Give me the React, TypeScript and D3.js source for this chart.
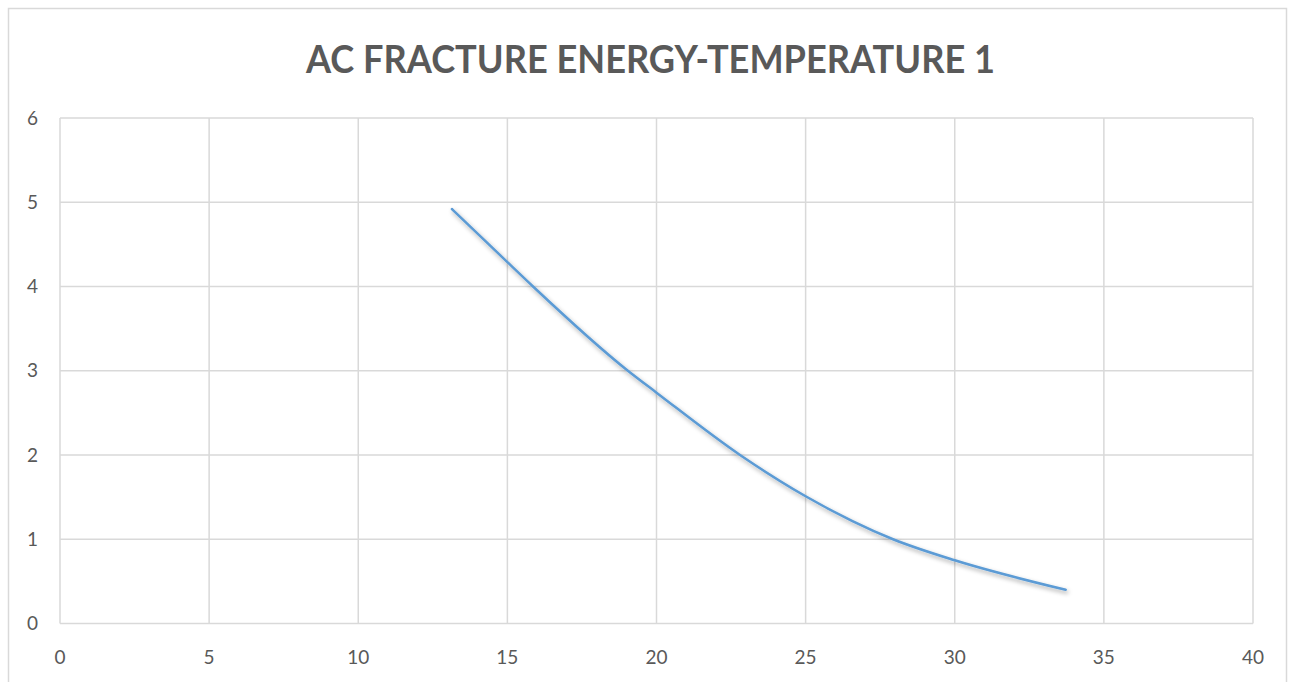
import React from "react";
import * as d3 from "d3";

const temperature = [13.14, 15.0, 15.86, 19.04, 20.0, 22.8, 25.0, 27.93, 30.0, 33.72];
const fractureEnergy = [4.92, 4.29, 4.0, 3.0, 2.74, 2.0, 1.51, 1.0, 0.75, 0.4];
const xTicks = [0, 5, 10, 15, 20, 25, 30, 35, 40];
const yTicks = [0, 1, 2, 3, 4, 5, 6];
const title = "AC FRACTURE ENERGY-TEMPERATURE 1";

export default function App() {
  const W = 1294, H = 682;
  const left = 60, right = 1253, top = 118, bottom = 623.5;
  const x = d3.scaleLinear().domain([0, 40]).range([left, right]);
  const y = d3.scaleLinear().domain([0, 6]).range([bottom, top]);
  const pts: [number, number][] = temperature.map((t, i) => [t, fractureEnergy[i]]);
  const line = d3
    .line<[number, number]>()
    .x((d) => x(d[0]))
    .y((d) => y(d[1]))
    .curve(d3.curveMonotoneX);
  const font = "Lato, 'Open Sans', sans-serif";
  return (
    <svg width={W} height={H} style={{ position: "absolute", left: 0, top: 0 }}>
      <defs>
        <filter id="sh" x="-10%" y="-10%" width="120%" height="120%">
          <feDropShadow dx="1.5" dy="2.5" stdDeviation="2" floodColor="#000" floodOpacity="0.35" />
        </filter>
      </defs>
      <rect x={0} y={0} width={W} height={H} fill="#fff" />
      <rect x={8.5} y={8.5} width={1278} height={700} fill="#fff" stroke="#d9d9d9" strokeWidth={1.5} />
      <text x={650.5} y={73} textAnchor="middle" fontFamily={font} fontWeight="bold" fontSize={38} fill="#595959" textLength={689} lengthAdjust="spacingAndGlyphs">
        {title}
      </text>
      {xTicks.map((t) => (
        <line key={"gx" + t} x1={x(t)} x2={x(t)} y1={top} y2={bottom} stroke="#d9d9d9" strokeWidth={1.5} />
      ))}
      {yTicks.map((t) => (
        <line key={"gy" + t} x1={left} x2={right} y1={y(t)} y2={y(t)} stroke="#d9d9d9" strokeWidth={1.5} />
      ))}
      {yTicks.map((t) => (
        <text key={"ly" + t} x={38} y={y(t) + 6.5} textAnchor="end" fontFamily={font} fontSize={19} fill="#595959">
          {t}
        </text>
      ))}
      {xTicks.map((t) => (
        <text key={"lx" + t} x={x(t)} y={664} textAnchor="middle" fontFamily={font} fontSize={19} fill="#595959">
          {t}
        </text>
      ))}
      <path d={line(pts) || ""} fill="none" stroke="#5b9bd5" strokeWidth={2.5} strokeLinecap="round" filter="url(#sh)" />
    </svg>
  );
}
